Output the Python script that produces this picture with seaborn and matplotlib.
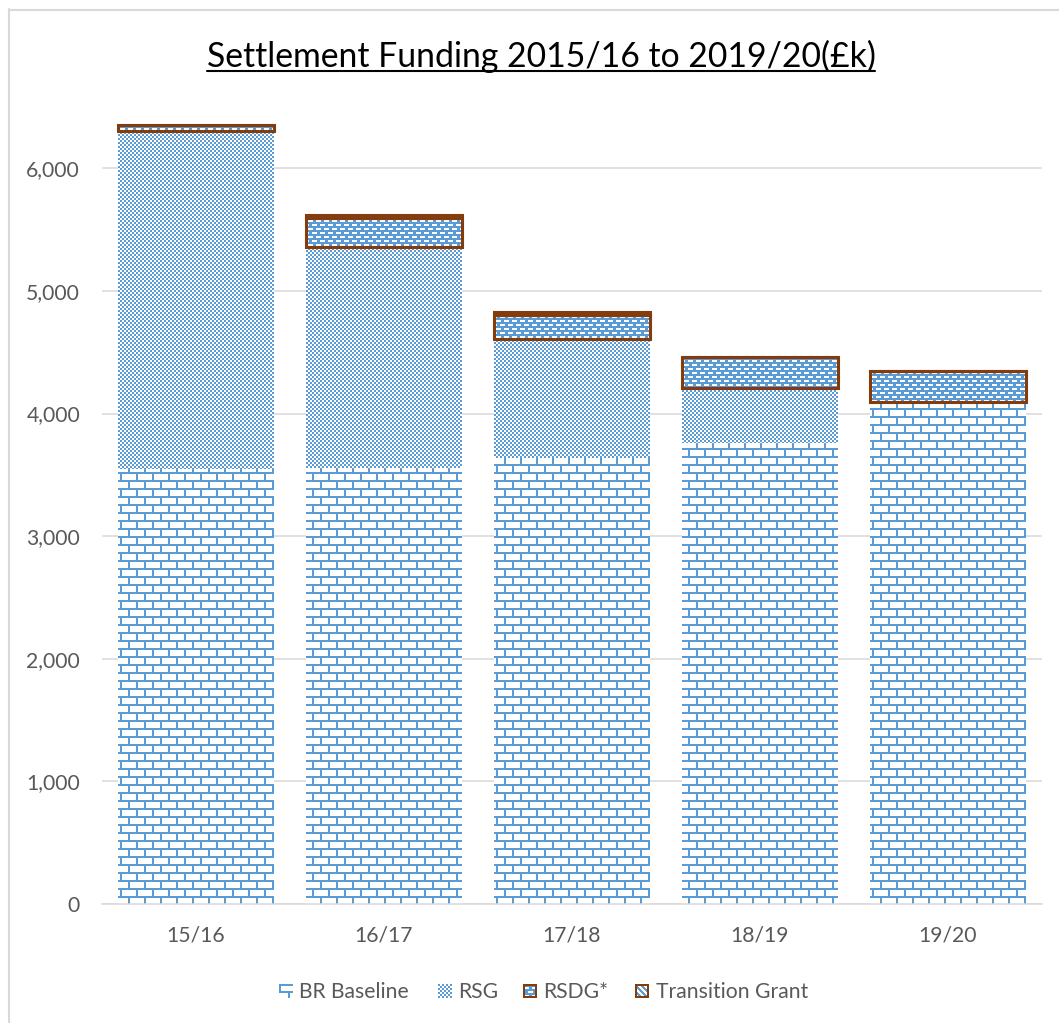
import warnings
warnings.filterwarnings("ignore")
import numpy as np
import pandas as pd
import matplotlib
matplotlib.use("Agg")
import matplotlib.pyplot as plt
import seaborn as sns
from matplotlib.path import Path
from matplotlib.lines import Line2D

# ---------------- data ----------------
years = ["15/16", "16/17", "17/18", "18/19", "19/20"]
br_baseline = [3548, 3556, 3638, 3758, 4097]
rsg = [2757, 1805, 973, 448, 0]
rsdg = [49, 237, 194, 253, 253]
transition_grant = [0, 24, 24, 0, 0]
series = ["BR Baseline", "RSG", "RSDG*", "Transition Grant"]
ytick_values = [0, 1000, 2000, 3000, 4000, 5000, 6000]
ytick_labels = ["0", "1,000", "2,000", "3,000", "4,000", "5,000", "6,000"]
title = "Settlement Funding 2015/16 to 2019/20(£k)"

# ---------------- style ----------------
W, H, DPI = 1059, 1023, 100
BLUE = np.array([0x5B, 0x9B, 0xD5]) / 255.0
BROWN = "#843C0C"
BROWN_RGB = np.array([0x84, 0x3C, 0x0C]) / 255.0
GREY_TXT = "#595959"
GRID = "#D9D9D9"

sns.set_theme(style="white")
plt.rcParams["font.family"] = ["Lato", "DejaVu Sans"]

df = pd.DataFrame({"year": years, series[0]: br_baseline, series[1]: rsg,
                   series[2]: rsdg, series[3]: transition_grant})

fig = plt.figure(figsize=(W / DPI, H / DPI), dpi=DPI)
fig.patch.set_facecolor("white")
AX_L, AX_R, AX_T, AX_B = 102, 1042, 107, 904
ax = fig.add_axes([AX_L / W, 1 - AX_B / H, (AX_R - AX_L) / W, (AX_B - AX_T) / H])
ax.set_facecolor("white")
YMAX = 6500

# stacked bars through seaborn
bottoms = np.zeros(len(years))
bar_groups = {}
for name in series:
    n0 = len(ax.patches)
    sns.barplot(data=df, x="year", y=name, order=years, bottom=bottoms.copy(),
                width=0.835, errorbar=None, color="#5B9BD5", ax=ax)
    bar_groups[name] = list(ax.patches[n0:])
    bottoms = bottoms + df[name].to_numpy(float)

# ---------------- textures ----------------
def brick(X, Y):
    row = Y // 8
    return ((Y % 8) < 2) | (((X + 8 * (row % 2)) % 16) < 2)

def checker(X, Y):
    return ((X // 2 + Y // 2) % 2) == 0

def dashes(X, Y):
    row = Y // 4
    white = ((Y % 4) < 2) & (((X + 4 * (row % 2)) % 8) < 5)
    return ~white

def diag(X, Y):
    return ((X - Y) % 6) < 3

patterns = {"BR Baseline": brick, "RSG": checker, "RSDG*": dashes, "Transition Grant": diag}
edges = {"BR Baseline": None, "RSG": None, "RSDG*": BROWN, "Transition Grant": BROWN}

PX = np.arange(AX_L, AX_R)[None, :]
PY = np.arange(AX_T, AX_B)[:, None]

def to_rgb(mask):
    img = np.ones(mask.shape + (3,))
    img[mask] = BLUE
    return img

for name in series:
    mask = np.broadcast_to(patterns[name](PX, PY), (AX_B - AX_T, AX_R - AX_L))
    im = ax.imshow(to_rgb(mask), extent=(-0.5, 4.5, 0, YMAX), origin="upper",
                   interpolation="nearest", aspect="auto", zorder=2)
    paths = []
    for p in bar_groups[name]:
        x, y, w, h = p.get_x(), p.get_y(), p.get_width(), p.get_height()
        if h > 0:
            paths.append(Path([(x, y), (x + w, y), (x + w, y + h), (x, y + h), (x, y)], closed=True))
        p.set_facecolor("none")
        p.set_zorder(3)
        if edges[name]:
            p.set_edgecolor(edges[name])
            p.set_linewidth(2.2)
        else:
            p.set_linewidth(0)
    im.set_clip_path(Path.make_compound_path(*paths), ax.transData)

ax.set_xlim(-0.5, 4.5)
ax.set_ylim(0, YMAX)
ax.set_xlabel("")
ax.set_ylabel("")

# ---------------- fonts ----------------
renderer = fig.canvas.get_renderer()

def fit_size(s, target):
    t = fig.text(0, 0, s, fontsize=20)
    w = t.get_window_extent(renderer).width
    t.remove()
    return 20.0 * target / w

fs = fit_size("BR Baseline", 110)
fs_title = fit_size(title, 670)

ax.set_yticks(ytick_values, labels=ytick_labels)
ax.tick_params(axis="both", length=0, labelcolor=GREY_TXT, labelsize=fs)
ax.tick_params(axis="y", pad=15.8)
ax.tick_params(axis="x", pad=15.5)
ax.grid(axis="y", color=GRID, linewidth=1.1)
ax.grid(axis="x", visible=False)
ax.set_axisbelow(True)
for s in ["left", "right", "top"]:
    ax.spines[s].set_visible(False)
ax.spines["bottom"].set_color(GRID)
ax.spines["bottom"].set_linewidth(1.1)

# ---------------- title ----------------
ttl = fig.text(541 / W, 1 - 67 / H, title, fontsize=fs_title, ha="center",
               va="baseline", color="black")
bb = ttl.get_window_extent(renderer)
fig.add_artist(Line2D([bb.x0 / W, bb.x1 / W], [1 - 71 / H] * 2,
                      transform=fig.transFigure, color="black", lw=1.5))

# ---------------- legend ----------------
def legend_marker(name, n=14):
    arr = np.zeros((n, n, 4))
    Y, X = np.mgrid[0:n, 0:n]
    if name == "BR Baseline":
        m = (Y < 2) | ((Y >= 7) & (Y < 9)) | ((X < 2) & (Y < 8)) | ((X >= 9) & (X < 11) & (Y >= 7))
        arr[m, :3] = BLUE
        arr[m, 3] = 1
    elif name == "RSG":
        m = ((X // 2 + Y // 2) % 2) == 0
        arr[..., :3] = 1
        arr[..., 3] = 1
        arr[m, :3] = BLUE
    else:
        fn = dashes if name == "RSDG*" else diag
        m = fn(X + 3, Y + 1)
        arr[..., :3] = 1
        arr[..., 3] = 1
        arr[m, :3] = BLUE
        border = (X < 2) | (X >= n - 2) | (Y < 2) | (Y >= n - 2)
        arr[border, :3] = BROWN_RGB
    return arr

leg_marker_x = [279, 438, 523, 635]
leg_text_x = [299, 458, 543, 656]
LEG_BASE = 998
for name, mx, tx in zip(series, leg_marker_x, leg_text_x):
    fig.text(tx / W, 1 - LEG_BASE / H, name, fontsize=fs, color=GREY_TXT,
             ha="left", va="baseline")
    fig.figimage(legend_marker(name), xo=mx, yo=H - (984 + 14), origin="upper", zorder=5)

# ---------------- chart border ----------------
fig.add_artist(Line2D([8.5 / W, 8.5 / W], [0, 1 - 9 / H], transform=fig.transFigure,
                      color=GRID, lw=1.5))
fig.add_artist(Line2D([8.5 / W, 1], [1 - 9.5 / H] * 2, transform=fig.transFigure,
                      color=GRID, lw=1.5))

fig.savefig("out.png", dpi=DPI)
